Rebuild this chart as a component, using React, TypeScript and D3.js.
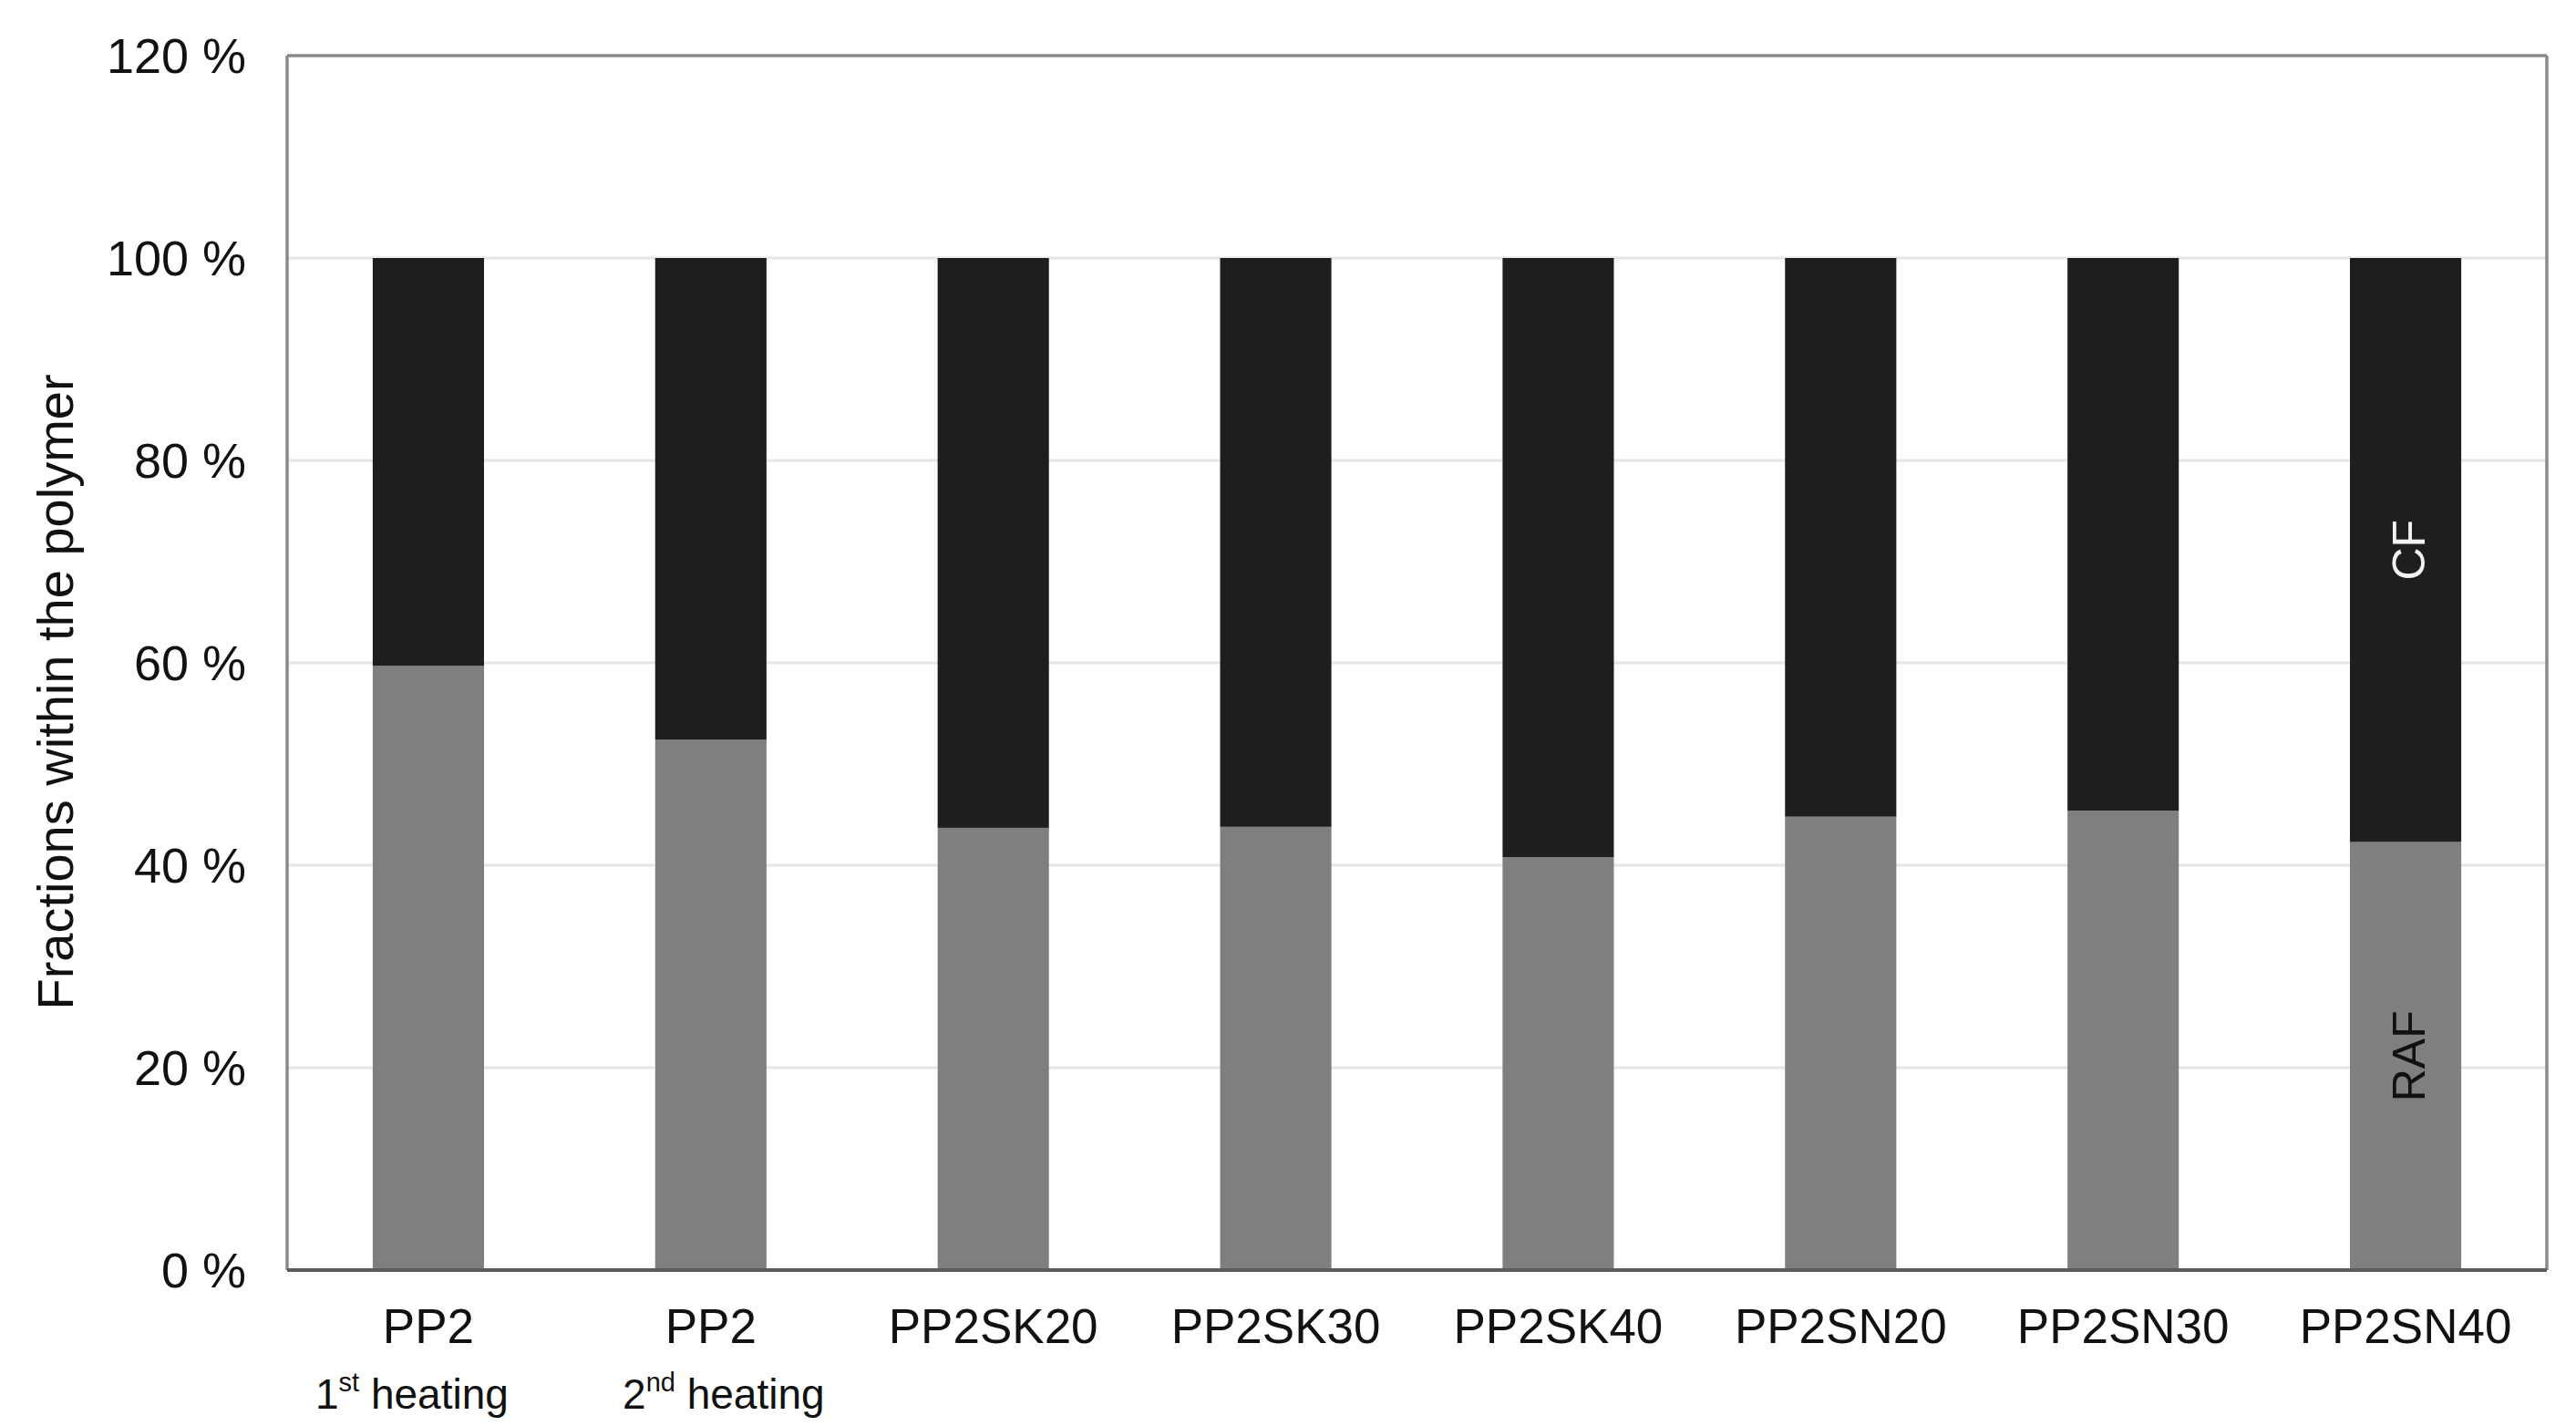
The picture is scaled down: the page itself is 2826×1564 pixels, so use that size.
import React from "react";
import * as d3 from "d3";

const categories = ["PP2", "PP2", "PP2SK20", "PP2SK30", "PP2SK40", "PP2SN20", "PP2SN30", "PP2SN40"];
const subNums = ["1", "2", "", "", "", "", "", ""];
const subSups = ["st", "nd", "", "", "", "", "", ""];
const subRest = [" heating", " heating", "", "", "", "", "", ""];
const rafValues = [59.7, 52.4, 43.7, 43.8, 40.8, 44.8, 45.4, 42.3];
const cfValues = [40.3, 47.6, 56.3, 56.2, 59.2, 55.2, 54.6, 57.7];
const seriesKeys = ["RAF", "CF"];
const seriesColors = ["#7f7f7f", "#1e1e1e"];
const yTicks = [0, 20, 40, 60, 80, 100, 120];
const gridTicks = [20, 40, 60, 80, 100];

const W = 2826;
const H = 1564;
const M = { left: 315, right: 2794, top: 61, bottom: 1393 };
const FONT = "'Liberation Sans', Arial, Helvetica, sans-serif";
const SUB_DX = [-18, 14, 0, 0, 0, 0, 0, 0];

export default function App() {
  const ids = categories.map((_, i) => String(i));
  const x = d3
    .scaleBand<string>()
    .domain(ids)
    .range([M.left, M.right])
    .paddingInner(0.606)
    .paddingOuter(0.303);
  const y = d3.scaleLinear().domain([0, 120]).range([M.bottom, M.top]);

  const rows = ids.map((id, i) => ({ id, RAF: rafValues[i], CF: cfValues[i] }));
  const stacked = d3.stack<any>().keys(seriesKeys)(rows);

  const lastIdx = ids.length - 1;
  const lastCx = (x(ids[lastIdx]) as number) + x.bandwidth() / 2;
  const rafSeg = stacked[0][lastIdx];
  const cfSeg = stacked[1][lastIdx];
  const rafMid = (y(rafSeg[0]) + y(rafSeg[1])) / 2;
  const cfMid = (y(cfSeg[0]) + y(cfSeg[1])) / 2;

  return (
    <svg
      width={W}
      height={H}
      style={{ position: "absolute", left: 0, top: 0, background: "#fff" }}
      fontFamily={FONT}
    >
      <rect x={0} y={0} width={W} height={H} fill="#fff" />
      {gridTicks.map((t) => (
        <line
          key={"g" + t}
          x1={M.left}
          x2={M.right}
          y1={y(t)}
          y2={y(t)}
          stroke="#e6e6e6"
          strokeWidth={3}
        />
      ))}
      {stacked.map((s, si) => (
        <g key={s.key} fill={seriesColors[si]}>
          {s.map((d: any, i: number) => (
            <rect
              key={i}
              x={x(ids[i]) as number}
              width={x.bandwidth()}
              y={y(d[1])}
              height={y(d[0]) - y(d[1])}
            />
          ))}
        </g>
      ))}
      <line x1={M.left} x2={M.left} y1={M.top} y2={M.bottom} stroke="#8a8a8a" strokeWidth={3.5} />
      <line x1={M.right} x2={M.right} y1={M.top} y2={M.bottom} stroke="#8a8a8a" strokeWidth={3.5} />
      <line x1={M.left} x2={M.right} y1={M.top} y2={M.top} stroke="#8a8a8a" strokeWidth={3.5} />
      <line x1={M.left} x2={M.right} y1={M.bottom} y2={M.bottom} stroke="#5a5a5a" strokeWidth={4} />

      {yTicks.map((t) => (
        <text
          key={"t" + t}
          x={270}
          y={y(t)}
          dy="0.36em"
          textAnchor="end"
          fontSize={54}
          fill="#111"
        >
          {t + " %"}
        </text>
      ))}

      {categories.map((c, i) => {
        const cx = (x(ids[i]) as number) + x.bandwidth() / 2;
        return (
          <g key={"xl" + i}>
            <text x={cx} y={1473} textAnchor="middle" fontSize={53} fill="#111">
              {c}
            </text>
            {subNums[i] !== "" && (
              <text x={cx + SUB_DX[i]} y={1545} textAnchor="middle" fontSize={46} fill="#111">
                {subNums[i]}
                <tspan fontSize={29} dy={-19}>
                  {subSups[i]}
                </tspan>
                <tspan dy={19}>{subRest[i]}</tspan>
              </text>
            )}
          </g>
        );
      })}

      <text
        transform={`translate(80, 759) rotate(-90)`}
        textAnchor="middle"
        fontSize={56}
        fill="#111"
      >
        Fractions within the polymer
      </text>

      <text
        transform={`translate(${lastCx + 21}, ${cfMid}) rotate(-90)`}
        textAnchor="middle"
        fontSize={50}
        fill="#f2f2f2"
      >
        {seriesKeys[1]}
      </text>
      <text
        transform={`translate(${lastCx + 21}, ${rafMid}) rotate(-90)`}
        textAnchor="middle"
        fontSize={50}
        fill="#111"
      >
        {seriesKeys[0]}
      </text>
    </svg>
  );
}
